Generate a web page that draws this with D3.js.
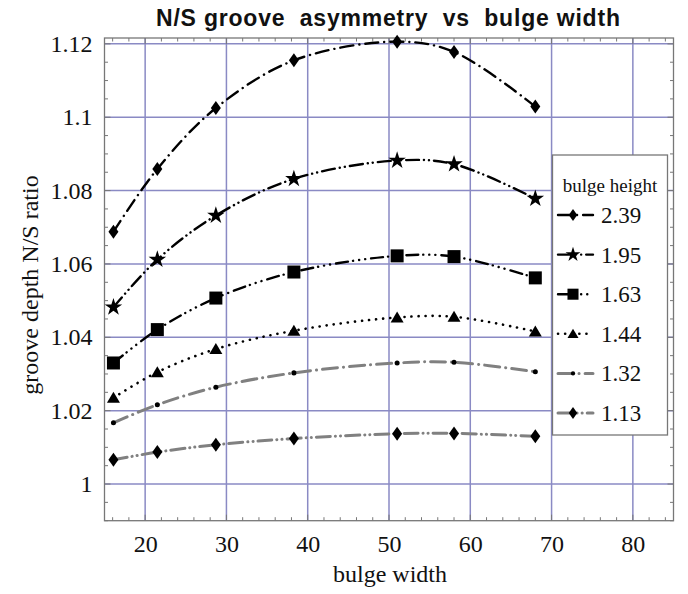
<!DOCTYPE html>
<html><head><meta charset="utf-8">
<script src="https://cdn.jsdelivr.net/npm/d3@7"></script>
<style>
body{margin:0;background:#fff;}
svg{display:block;}
</style></head>
<body><svg id="c" width="688" height="594"></svg>
<script>
const bulgeWidth = [16.1, 21.5, 28.7, 38.3, 51.0, 58.0, 68.0];
const heights = ["2.39", "1.95", "1.63", "1.44", "1.32", "1.13"];
const s239 = [1.0688, 1.0859, 1.1025, 1.1155, 1.1206, 1.1178, 1.1029];
const s195 = [1.0482, 1.0612, 1.0732, 1.0832, 1.0882, 1.0872, 1.0778];
const s163 = [1.0330, 1.0421, 1.0507, 1.0578, 1.0622, 1.0620, 1.0562];
const s144 = [1.0235, 1.0305, 1.0368, 1.0418, 1.0454, 1.0456, 1.0416];
const s132 = [1.0167, 1.0216, 1.0264, 1.0303, 1.0330, 1.0332, 1.0306];
const s113 = [1.0066, 1.0087, 1.0107, 1.0124, 1.0137, 1.0138, 1.0130];
const xTicks = [20, 30, 40, 50, 60, 70, 80];
const yTicks = [1, 1.02, 1.04, 1.06, 1.08, 1.1, 1.12];
const yTickLabels = ["1", "1.02", "1.04", "1.06", "1.08", "1.1", "1.12"];

const seriesValues = [s239, s195, s163, s144, s132, s113];
const styles = [
  {marker:"diamond", color:"#000", width:2.4, dash:"13,6,0.1,6"},
  {marker:"star", color:"#000", width:2.4, dash:"13,5,0.1,5,0.1,5"},
  {marker:"square", color:"#000", width:2.4, dash:"12,5,0.1,6,0.1,6,0.1,6"},
  {marker:"triangle", color:"#000", width:2.6, dash:"0.1,7"},
  {marker:"dot", color:"#808080", width:3, dash:"15,6,0.1,6"},
  {marker:"diamond", color:"#808080", width:3, dash:"14,5,0.1,5,0.1,5"}
];

const svg = d3.select("#c");
const L = 104.5, R = 673.5, T = 38, B = 520.7;
const x = d3.scaleLinear().domain([15, 85]).range([L, R]);
const y = d3.scaleLinear().domain([0.99, 1.1216]).range([B, T]);

// grid
const grid = svg.append("g");
grid.selectAll("line.vx").data(xTicks).join("line")
  .attr("x1", d => x(d)).attr("x2", d => x(d)).attr("y1", T).attr("y2", B)
  .attr("stroke", "#8a8ac4").attr("stroke-width", 1.5);
grid.selectAll("line.hy").data(yTicks).join("line")
  .attr("y1", d => y(d)).attr("y2", d => y(d)).attr("x1", L).attr("x2", R)
  .attr("stroke", "#8a8ac4").attr("stroke-width", 1.5);

// frame ticks
const minorX = d3.range(16, 85, 2);
const minorY = d3.range(0.99, 1.1216, 0.005);
const tk = svg.append("g").attr("stroke", "#777").attr("stroke-width", 1);
minorX.forEach(v => {
  const len = (Math.round(v) % 10 === 0) ? 6 : 3.5;
  tk.append("line").attr("x1", x(v)).attr("x2", x(v)).attr("y1", B).attr("y2", B - len);
  tk.append("line").attr("x1", x(v)).attr("x2", x(v)).attr("y1", T).attr("y2", T + len);
});
minorY.forEach(v => {
  const major = Math.abs(Math.round(v * 50) - v * 50) < 1e-6;
  const len = major ? 6 : 3.5;
  tk.append("line").attr("y1", y(v)).attr("y2", y(v)).attr("x1", L).attr("x2", L + len);
  tk.append("line").attr("y1", y(v)).attr("y2", y(v)).attr("x1", R).attr("x2", R - len);
});
svg.append("rect").attr("x", L).attr("y", T).attr("width", R - L).attr("height", B - T)
  .attr("fill", "none").attr("stroke", "#777").attr("stroke-width", 1.3);

// axes labels using d3 axes (no domain line)
const xAxis = svg.append("g").attr("transform", `translate(0,${B})`)
  .call(d3.axisBottom(x).tickValues(xTicks).tickSize(0).tickPadding(14).tickFormat(d3.format("d")));
xAxis.select(".domain").remove();
xAxis.selectAll("text").attr("font-family", "Liberation Serif").attr("font-size", 24).attr("fill", "#111");

const yAxis = svg.append("g").attr("transform", `translate(${L},0)`)
  .call(d3.axisLeft(y).tickValues(yTicks).tickSize(0).tickPadding(12).tickFormat((d, i) => yTickLabels[i]));
yAxis.select(".domain").remove();
yAxis.selectAll("text").attr("font-family", "Liberation Serif").attr("font-size", 24).attr("fill", "#111");

svg.append("text").attr("x", 390).attr("y", 582).attr("text-anchor", "middle")
  .attr("font-family", "Liberation Serif").attr("font-size", 24).attr("fill", "#111").text("bulge width");
svg.append("text").attr("transform", `translate(30,285) rotate(-90)`).attr("text-anchor", "middle")
  .attr("dy", "0.35em")
  .attr("font-family", "Liberation Serif").attr("font-size", 24).attr("fill", "#111").text("groove depth N/S ratio");

svg.append("text").attr("x", 388).attr("y", 26).attr("text-anchor", "middle")
  .attr("font-family", "Liberation Sans").attr("font-weight", "bold").attr("font-size", 23)
  .attr("textLength", 464).attr("lengthAdjust", "spacing")
  .attr("fill", "#111").style("white-space", "pre").text("N/S groove  asymmetry  vs  bulge width");

// markers
function markerPath(type, s) {
  if (type === "diamond") return `M0,${-7*s}L${5*s},0L0,${7*s}L${-5*s},0Z`;
  if (type === "square") return `M${-6.5*s},${-6.5*s}h${13*s}v${13*s}h${-13*s}Z`;
  if (type === "triangle") return `M0,${-6*s}L${6.5*s},${5*s}L${-6.5*s},${5*s}Z`;
  if (type === "star") return d3.symbol(d3.symbolStar, 95 * s * s)();
  if (type === "dot") return d3.symbol(d3.symbolCircle, 20 * s * s)();
}

const line = d3.line().x(d => x(d[0])).y(d => y(d[1])).curve(d3.curveCatmullRom.alpha(0.5));
const plot = svg.append("g");
seriesValues.forEach((vals, i) => {
  const st = styles[i];
  const pts = bulgeWidth.map((w, j) => [w, vals[j]]);
  plot.append("path").attr("d", line(pts)).attr("fill", "none")
    .attr("stroke", st.color).attr("stroke-width", st.width)
    .attr("stroke-dasharray", st.dash).attr("stroke-linecap", "round");
  plot.selectAll(null).data(pts).join("path")
    .attr("transform", d => `translate(${x(d[0])},${y(d[1])})`)
    .attr("d", markerPath(st.marker, 1)).attr("fill", "#000");
});

// legend
const lg = svg.append("g");
lg.append("rect").attr("x", 552.5).attr("y", 155).attr("width", 115).attr("height", 280)
  .attr("fill", "#fff").attr("stroke", "#777").attr("stroke-width", 1.3);
lg.append("text").attr("x", 610).attr("y", 192).attr("text-anchor", "middle")
  .attr("font-family", "Liberation Serif").attr("font-size", 19).attr("fill", "#111").text("bulge height");
heights.forEach((h, i) => {
  const st = styles[i];
  const cy = 215 + i * 39.6;
  lg.append("line").attr("x1", 558).attr("x2", 593).attr("y1", cy).attr("y2", cy)
    .attr("stroke", st.color).attr("stroke-width", st.width)
    .attr("stroke-dasharray", st.dash).attr("stroke-linecap", "round");
  lg.append("path").attr("transform", `translate(573,${cy})`).attr("d", markerPath(st.marker, 0.85)).attr("fill", "#000");
  lg.append("text").attr("x", 601).attr("y", cy).attr("dy", "0.35em")
    .attr("font-family", "Liberation Serif").attr("font-size", 23).attr("fill", "#111").text(h);
});
</script></body></html>
